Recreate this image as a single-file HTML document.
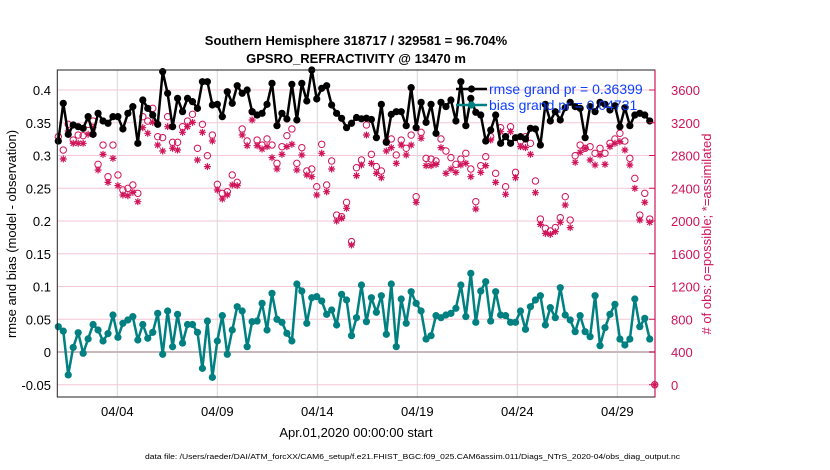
<!DOCTYPE html>
<html><head><meta charset="utf-8"><style>
body{margin:0;background:#fff;}
svg{display:block;font-family:"Liberation Sans",sans-serif;}
</style></head><body>
<svg id="chart" width="830" height="470" viewBox="0 0 830 470">
<text x="356" y="45" text-anchor="middle" font-size="13" font-weight="bold">Southern Hemisphere 318717 / 329581 = 96.704%</text>
<text x="356" y="63" text-anchor="middle" font-size="13" font-weight="bold">GPSRO_REFRACTIVITY @ 13470 m</text>
<g id="grid"></g>
<g id="series"></g>
<rect x="57.3" y="70" width="597.7" height="327" fill="none" stroke="#222" stroke-width="1"/>
<line x1="655" y1="70" x2="655" y2="397" stroke="#d0145a" stroke-width="1.2"/>
<g id="axes"></g>
<text transform="translate(16,234) rotate(-90)" text-anchor="middle" font-size="13">rmse and bias (model - observation)</text>
<text transform="translate(711,234) rotate(-90)" text-anchor="middle" font-size="13" fill="#d0145a"># of obs: o=possible; *=assimilated</text>
<text x="356" y="437" text-anchor="middle" font-size="13">Apr.01,2020 00:00:00 start</text>
<text x="145" y="459" font-size="7" textLength="535" lengthAdjust="spacingAndGlyphs">data file: /Users/raeder/DAI/ATM_forcXX/CAM6_setup/f.e21.FHIST_BGC.f09_025.CAM6assim.011/Diags_NTrS_2020-04/obs_diag_output.nc</text>
<g id="legend"></g>
</svg>
<script>
const rmse = [0.3221,0.3797,0.3323,0.3466,0.344,0.3415,0.3593,0.3323,0.3644,0.3527,0.3492,0.3593,0.3593,0.3405,0.3644,0.3746,0.3186,0.3847,0.372,0.3618,0.3476,0.428,0.395,0.344,0.3873,0.3669,0.3873,0.3822,0.372,0.4127,
0.4127,0.3771,0.3781,0.3593,0.3974,0.3797,0.4066,0.395,0.4,0.3669,0.3618,0.3644,0.3781,0.4102,0.3455,0.3644,0.3557,0.4087,0.3542,0.4102,0.3832,0.4305,0.3863,0.4026,0.4066,0.3771,0.3644,0.3568,0.3425,0.3492,
0.358,0.356,0.357,0.355,0.3272,0.3781,0.3201,0.3628,0.3669,0.3669,0.3455,0.4036,0.3425,0.3812,0.3506,0.3781,0.3338,0.3812,0.3746,0.3847,0.3527,0.4127,0.3455,0.3873,0.366,0.3618,0.3221,0.3389,0.3618,0.3186,
0.3288,0.3186,0.3272,0.3288,0.3252,0.3415,0.3405,0.316,0.3781,0.3527,0.3669,0.3542,0.373,0.3812,0.3746,0.372,0.3272,0.3746,0.3669,0.3812,0.3781,0.3695,0.376,0.344,0.373,0.3455,0.3618,0.3644,0.3618,0.3527,null];
const bias = [0.0386,0.032,-0.035,0.007,0.0295,-0.002,0.02,0.042,0.0336,0.0168,0.028,0.0565,0.0224,0.0438,0.0489,0.054,0.0183,0.042,0.021,0.03,0.059,-0.0035,0.0626,0.008,0.0575,0.0137,0.042,0.042,0.03,-0.025,
0.0473,-0.0387,0.0168,0.0555,-0.0035,0.0336,0.0692,0.0626,0.0081,0.0463,0.0473,0.0743,0.0336,0.0896,0.0499,0.0453,0.0285,0.0168,0.1038,0.0931,0.0438,0.0829,0.0845,0.0779,0.0575,0.0641,0.0412,0.0881,0.0794,0.0249,
0.0524,0.1023,0.0463,0.0829,0.0606,0.086,0.027,0.1038,0.0081,0.0809,0.0438,0.0921,0.0743,0.0626,0.0198,0.0249,0.0555,0.0524,0.0565,0.059,0.0667,0.1023,0.054,0.1201,0.0453,0.0931,0.1073,0.0473,0.0921,0.0565,
0.0555,0.0453,0.0453,0.0626,0.0346,0.0692,0.0794,0.086,0.0412,0.0677,0.0524,0.0982,0.0565,0.0489,0.031,0.0555,0.031,0.0234,0.086,0.0097,0.0371,0.0575,0.0728,0.0198,0.0107,0.0198,0.0809,0.0387,0.0514,0.0198,null];
const possible = [3030,2867,3181,2989,3050,3042,3181,3221,2692,2928,2541,2928,2562,2379,2399,2440,2338,3274,3221,3376,3030,3018,3274,2961,2961,3152,3221,3303,2888,3181,
2798,3050,2448,2338,2358,2562,2472,3124,2977,3335,2989,2928,3002,2928,2704,2908,3042,3124,2704,2896,2611,2635,2419,2937,2440,2733,2073,2053,2228,1748,
2651,2745,3173,2814,2664,2611,2969,3002,2806,2989,2888,3050,2297,3083,2765,2757,2733,3002,2855,2774,2692,2757,2827,2635,2236,2676,2786,3030,2582,3140,
2419,3152,2594,2977,3030,2949,2489,2024,1911,1878,1919,2041,2297,2012,2798,2928,2888,2908,2827,2888,2827,2949,3002,3071,2977,2765,2521,2073,2338,2024,0];
const assimilated = [2977,2757,3099,2949,2949,2949,3059,3140,2623,2814,2472,2765,2432,2318,2309,2350,2236,3140,3071,3205,2928,2855,3152,2888,2867,3083,3152,3205,2745,3083,
2664,2977,2379,2269,2318,2440,2432,3050,2920,3234,2920,2879,2908,2774,2635,2814,2908,2937,2623,2806,2562,2541,2318,2827,2358,2635,2000,2033,2155,1707,
2554,2684,3050,2704,2582,2529,2855,2896,2704,2928,2806,2928,2228,3010,2676,2676,2692,2896,2582,2635,2594,2684,2704,2541,2147,2594,2676,2989,2472,3091,
2326,3091,2529,2908,2896,2814,2346,1959,1849,1837,1870,1984,2195,1919,2717,2839,2888,2745,2684,2806,2692,2908,2949,2969,2867,2684,2399,2012,2228,1984,0];
const leftTicks = [-0.05,0,0.05,0.1,0.15,0.2,0.25,0.3,0.35,0.4];
const leftTickLabels = ["-0.05","0","0.05","0.1","0.15","0.2","0.25","0.3","0.35","0.4"];
const rightTicks = [0,400,800,1200,1600,2000,2400,2800,3200,3600];
const xTickDays = [3,8,13,18,23,28];
const xTickLabels = ["04/04","04/09","04/14","04/19","04/24","04/29"];
const legendLabels = ["rmse grand pr = 0.36399","bias grand pr = 0.04731"];

const NS="http://www.w3.org/2000/svg";
const yL = v => 352 - v*655;
const yR = c => 384.75 - c*32.75/400;
const xD = d => 57.3 + d*20;
const tOf = i => 0.05 + i*0.2485;
function mk(tag, attrs, parent){const e=document.createElementNS(NS,tag);for(const k in attrs)e.setAttribute(k,attrs[k]);parent.appendChild(e);return e;}
const grid=document.getElementById('grid'), ser=document.getElementById('series'), axes=document.getElementById('axes'), leg=document.getElementById('legend');

rightTicks.forEach((c,i)=>{
  const y=yR(c);
  const l=mk('line',{x1:57.3,x2:655,y1:y,y2:y,stroke:'#f4c6d6','stroke-width':1},grid);
  
  
  const tk=mk('line',{x1:649,x2:655,y1:y,y2:y,stroke:'#d0145a'},axes);
  
  
  const t=mk('text',{x:671,y:y+5,'font-size':13,fill:'#d0145a'},axes);
  t.textContent=c;
  
  
});
xTickDays.forEach((d,i)=>{
  const x=xD(d);
  const l=mk('line',{x1:x,x2:x,y1:70,y2:397,stroke:'#d8d8d8','stroke-width':1},grid);
  
  
  const t=mk('text',{x:x,y:416,'font-size':13,'text-anchor':'middle'},axes);
  t.textContent=xTickLabels[i];
  
  
});
leftTicks.forEach((v,i)=>{
  const y=yL(v);
  const t=mk('text',{x:51,y:y+5,'font-size':13,'text-anchor':'end'},axes);
  t.textContent=leftTickLabels[i];
  
  
});
const z=mk('line',{x1:57.3,x2:655,y1:yL(0),y2:yL(0),stroke:'#c8b8bc','stroke-width':2},grid);



const red='#d0145a';
possible.forEach((c,i)=>{
  const m=mk('circle',{cx:xD(tOf(i)),cy:yR(c),r:3.2,fill:'none',stroke:red,'stroke-width':1},ser);
  
  
});
assimilated.forEach((c,i)=>{
  const x=xD(tOf(i)), y=yR(c);
  const m=mk('path',{d:`M${x-3.5} ${y}H${x+3.5}M${x} ${y-3.5}V${y+3.5}M${x-2.5} ${y-2.5}L${x+2.5} ${y+2.5}M${x-2.5} ${y+2.5}L${x+2.5} ${y-2.5}`,stroke:red,'stroke-width':1.2},ser);
  
  
});
function line(arr,color,name){
  let d='';let pen=false;
  arr.forEach((v,i)=>{if(v===null){pen=false;return;} d+=(pen?'L':'M')+xD(tOf(i)).toFixed(1)+' '+yL(v).toFixed(1);pen=true;});
  const p=mk('path',{d:d,fill:'none',stroke:color,'stroke-width':2.5,'stroke-linejoin':'round'},ser);
  
  
}
line(rmse,'#000','rmse-line');
rmse.forEach((v,i)=>{ if(v===null)return;
  const m=mk('circle',{cx:xD(tOf(i)),cy:yL(v),r:3.6,fill:'#000'},ser);
  
  
});
line(bias,'#008080','bias-line');
bias.forEach((v,i)=>{ if(v===null)return;
  const m=mk('circle',{cx:xD(tOf(i)),cy:yL(v),r:3.6,fill:'#008080'},ser);
  
  
});

const legColors=['#000','#008080'];
legendLabels.forEach((s,i)=>{
  const y=89+i*16;
  const l=mk('line',{x1:456,x2:487,y1:y,y2:y,stroke:legColors[i],'stroke-width':2.5},leg);
  
  
  const c=mk('circle',{cx:471.5,cy:y,r:3.6,fill:legColors[i]},leg);
  
  
  const t=mk('text',{x:489,y:y+5,'font-size':14,fill:'#1040ff'},leg);
  t.textContent=s;
  
  
});
</script>
</body></html>
